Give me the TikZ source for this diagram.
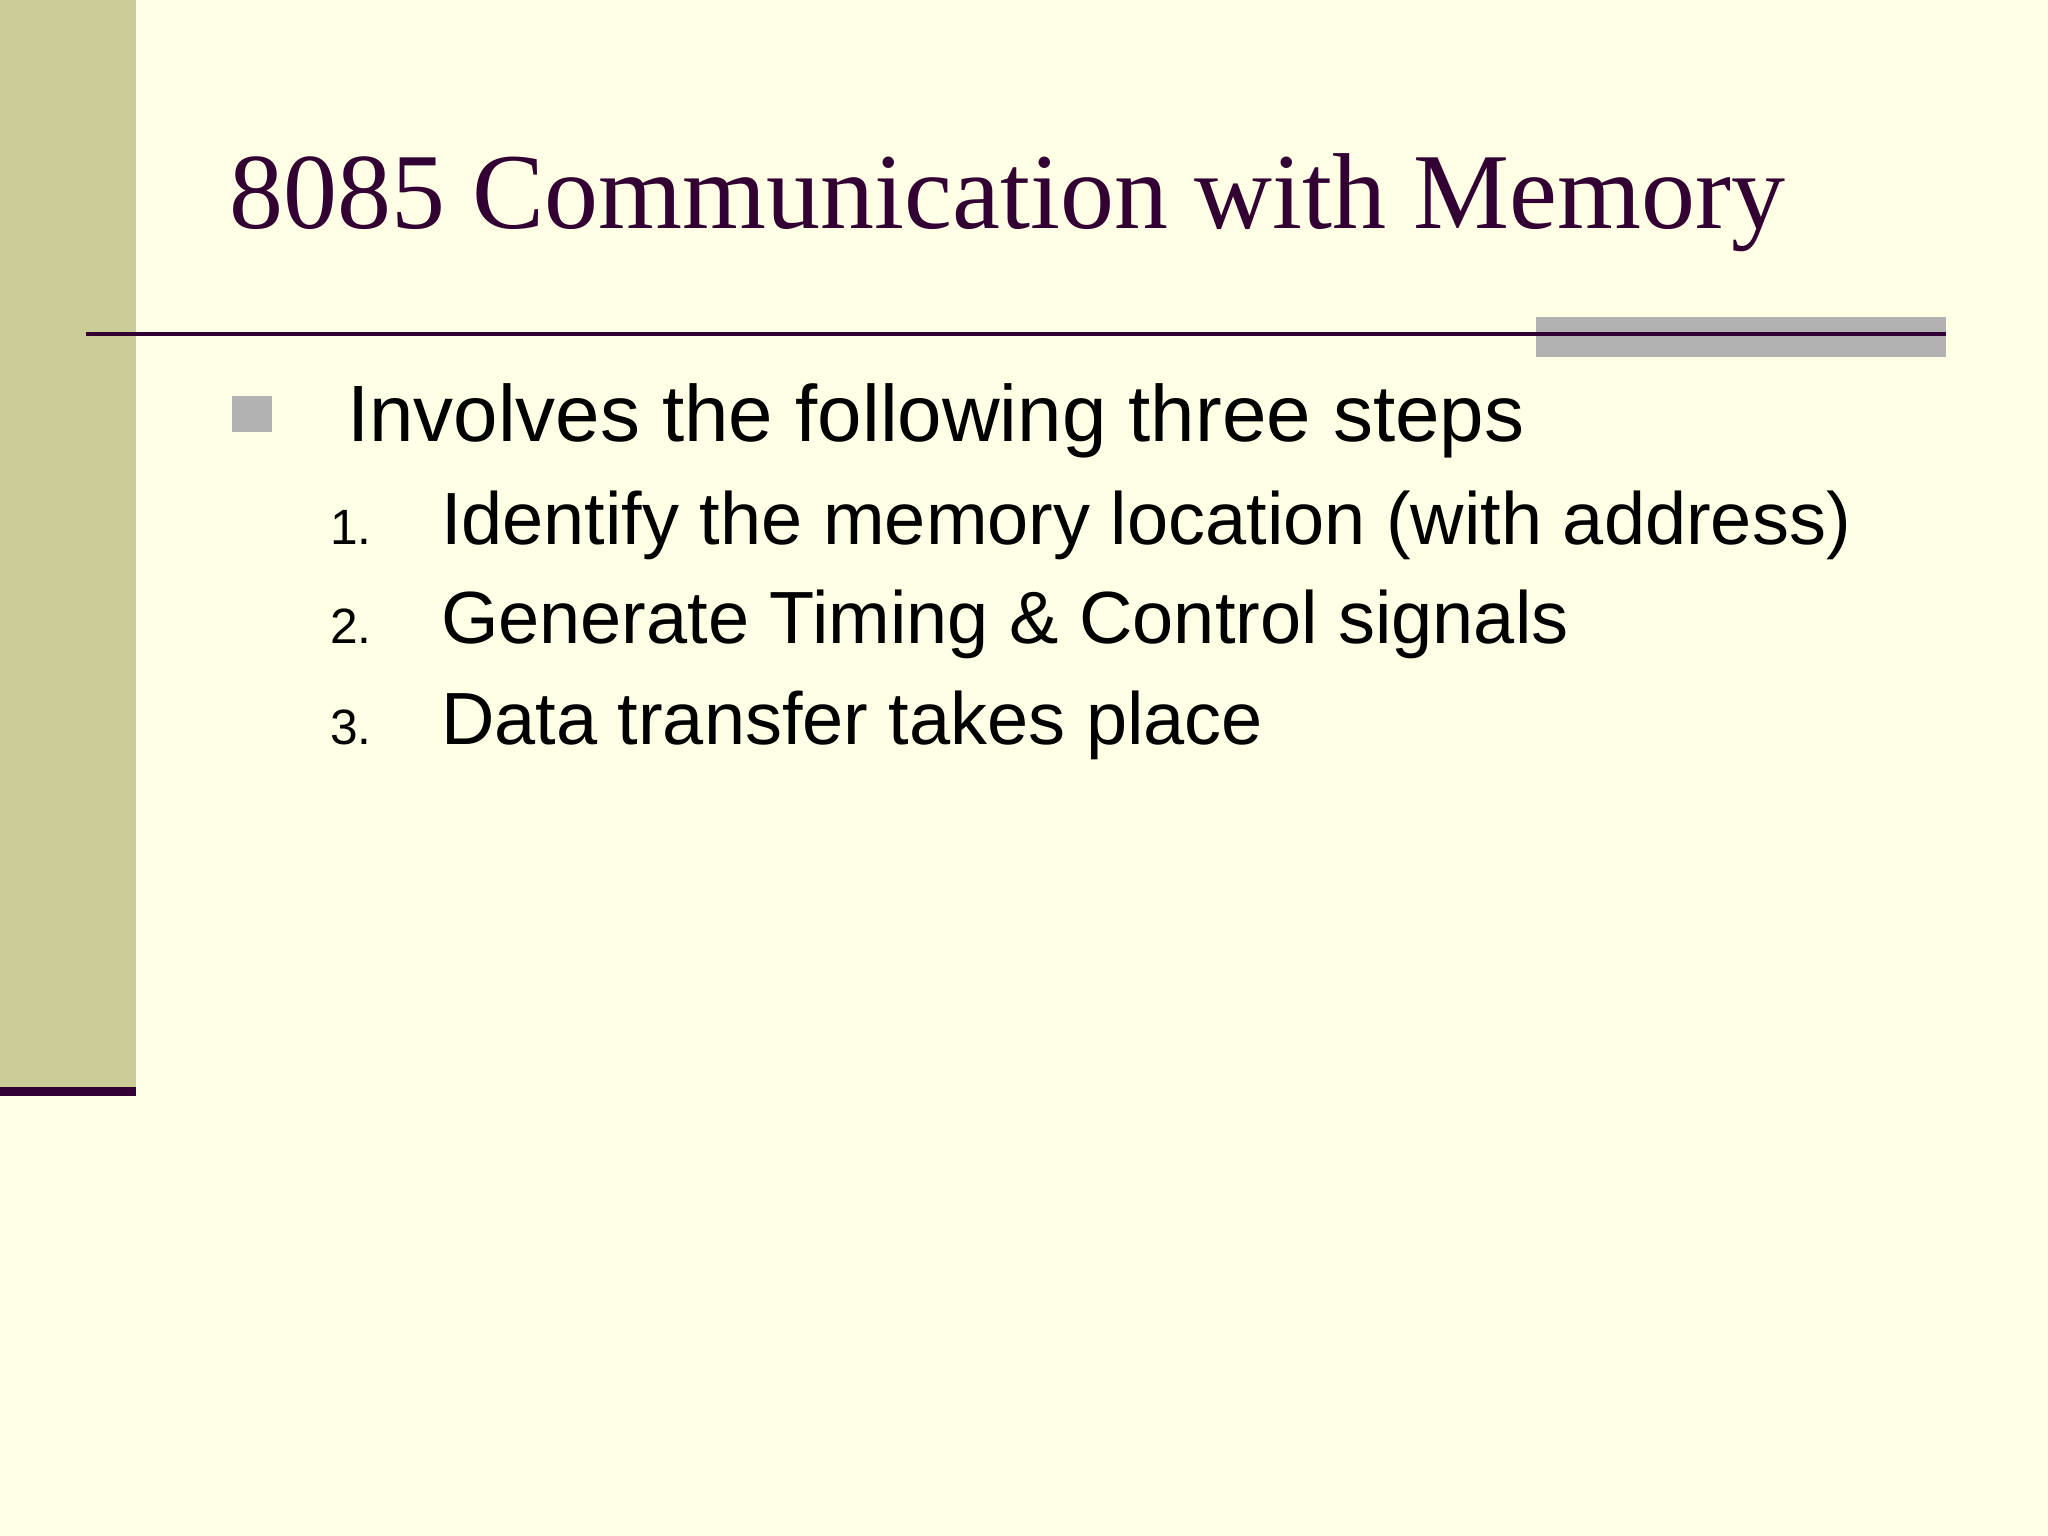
\documentclass[tikz,border=0pt]{standalone}
\usepackage{fontspec}
\setmainfont{Liberation Serif}
\setsansfont{Liberation Sans}
\definecolor{bg}{RGB}{255,255,229}
\definecolor{side}{RGB}{204,204,153}
\definecolor{dpurple}{RGB}{51,0,51}
\definecolor{gbar}{RGB}{178,178,178}
\tikzset{
  title/.style={anchor=base west,inner sep=0,text=dpurple,font=\fontsize{23.5pt}{28pt}\selectfont},
  lvl1/.style={anchor=base west,inner sep=0,font=\sffamily\fontsize{17.4pt}{20pt}\selectfont},
  num/.style={anchor=base west,inner sep=0,font=\sffamily\fontsize{10.8pt}{12pt}\selectfont},
  lvl2/.style={anchor=base west,inner sep=0,font=\sffamily\fontsize{16.1pt}{19pt}\selectfont}
}
\begin{document}
\begin{tikzpicture}[x=0.01cm,y=-0.01cm]
\fill[bg] (0,0) rectangle (1568,1176);
\useasboundingbox (0,0) rectangle (1568,1176);
\fill[side] (0,0) rectangle (104,833);
\fill[dpurple] (0,832) rectangle (104,839);
\node[title] (t) at (175,175) {8085 Communication with Memory};
\fill[gbar] (1176,243) rectangle (1490,273);
\draw[dpurple,line width=0.9pt] (66,256) -- (1490,256);
\fill[gbar] (178,303) rectangle (208,331);
\node[lvl1] (b) at (265,338) {Involves the following three steps};
\node[num] (n1) at (252,417) {1.};
\node[lvl2] (s1) at (337,417) {Identify the memory location (with address)};
\node[num] (n2) at (252,493) {2.};
\node[lvl2] (s2) at (337,493) {Generate Timing \& Control signals};
\node[num] (n3) at (252,570) {3.};
\node[lvl2] (s3) at (337,570) {Data transfer takes place};
\end{tikzpicture}
\end{document}
